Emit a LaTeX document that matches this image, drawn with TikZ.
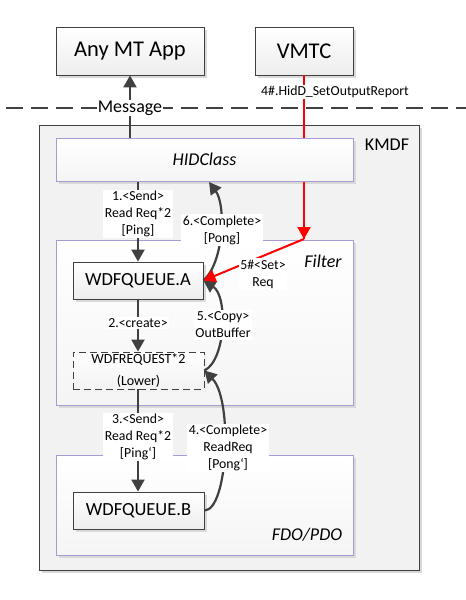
\documentclass[tikz,border=0pt]{standalone}
\usepackage{fontspec}
\setmainfont{Carlito}
\usetikzlibrary{arrows.meta,shadows,calc}
\definecolor{dk}{HTML}{404040}
\definecolor{lav}{HTML}{A99BD1}
\definecolor{kbg}{HTML}{F2F2F2}
\definecolor{shd}{HTML}{D9D9D9}
\definecolor{redc}{HTML}{FF0000}
\tikzset{
  shad/.style={drop shadow={shadow xshift=3pt,shadow yshift=-3pt,fill=shd,opacity=1}},
  bigbox/.style={draw=dk, line width=0.9pt, top color=white, bottom color=gray!14, shad,
    minimum width=148pt, minimum height=48pt, inner sep=0pt, font=\fontsize{22.5}{27}\selectfont},
  layer/.style={draw=lav, line width=1pt, top color=white, bottom color=gray!8, shad, inner sep=0pt},
  qbox/.style={draw=dk, line width=0.9pt, top color=white, bottom color=gray!14, shad,
    minimum width=131pt, minimum height=37pt, inner sep=0pt, font=\fontsize{18.5}{22}\selectfont},
  arr/.style={draw=dk, line width=2.2pt, -{Triangle[length=12pt,width=13pt]}},
  redarr/.style={draw=redc, line width=2pt, -{Triangle[length=12pt,width=13pt]}},
  lbl/.style={fill=white, inner sep=1.5pt, align=center, font=\fontsize{13.8}{17}\selectfont},
  ttl/.style={inner sep=0pt, font=\fontsize{18}{21}\selectfont},
}
\newcommand{\bq}{\symbol{96}}
\begin{document}
\begin{tikzpicture}[x=1pt,y=-1pt]
\useasboundingbox (0,0) rectangle (466,600);
% dashed boundary
\coordinate (dl) at (6,108);
\coordinate (dr) at (466,108);
\draw[dk, line width=2pt, dash pattern=on 17pt off 8pt] (dl) -- (dr);
% top boxes
\node[bigbox] (app) at (130,51) {Any MT App};
\node[bigbox, minimum width=98pt] (vmtc) at (304,51) {VMTC};
% KMDF container
\node[draw=dk, line width=1pt, fill=kbg, shad, minimum width=380pt, minimum height=445pt, inner sep=0pt] (kmdf) at (229,347.5) {};
\node[ttl] (kmdft) at (387,145) {KMDF};
% red line (behind HIDClass)
\coordinate (r1) at (304,239);
\draw[draw=redc, line width=2pt] (vmtc.south) -- (r1);
% layers
\node[layer, minimum width=297pt, minimum height=43pt, font=\itshape\fontsize{18}{21}\selectfont] (hid) at (204.5,159.5) {HIDClass};
\node[layer, minimum width=297pt, minimum height=165pt] (filter) at (204.5,322.5) {};
\node[ttl, font=\itshape\fontsize{18}{21}\selectfont] (filtert) at (323,261) {Filter};
\node[layer, minimum width=297pt, minimum height=100pt] (fdo) at (204.5,505) {};
\node[ttl, font=\itshape\fontsize{18}{21}\selectfont] (fdot) at (307,535) {FDO/PDO};
% queues
\node[qbox, minimum width=130pt] (qa) at (138,280.5) {WDFQUEUE.A};
\node[draw=dk, line width=0.9pt, dash pattern=on 7pt off 4pt, top color=white, bottom color=gray!10,
  drop shadow={shadow xshift=3pt,shadow yshift=-3pt,fill=gray!10,opacity=1},
  minimum width=131pt, minimum height=37pt, inner sep=0pt, align=center, font=\fontsize{14}{22}\selectfont] (req) at (138.5,370.5) {WDFREQUEST*2\\(Lower)};
\node[qbox] (qb) at (138.5,510.5) {WDFQUEUE.B};
% message arrow
\draw[arr] (hid.north -| app.south) -- (app.south);
\node[fill=white, inner sep=1pt, font=\fontsize{18}{21}\selectfont] (msg) at (130,108) {Message};
% vertical arrows
\draw[arr] (hid.south -| qa.north) -- (qa.north);
\draw[arr] (qa.south) -- (req.north -| qa.south);
\draw[arr] (req.south -| qa.south) -- (qb.north -| qa.south);
% curved arrows
\coordinate (h6) at (209,182);
\draw[arr] (qa.east) .. controls (224,262) and (226,205) .. (h6);
\draw[arr] (req.east) .. controls (226,360) and (228,296) .. (qa.east);
\draw[arr] (qb.east) .. controls (228,510) and (233,400) .. (req.east);
% red arrows (on top)
\draw[redarr] (hid.south -| r1) -- (r1);
\draw[redarr] (r1) -- (qa.east);
% labels
\node[lbl] (l1) at (138,214) {1.<Send>\\Read Req*2\\{[Ping]}};
\node[lbl] (l2) at (138,323) {2.<create>};
\node[lbl] (l3) at (138,437) {3.<Send>\\Read Req*2\\{[Ping\bq]}};
\node[lbl] (l4) at (228,448) {4.<Complete>\\ReadReq\\{[Pong\bq]}};
\node[lbl] (l5) at (223,325) {5.<Copy>\\OutBuffer};
\node[lbl] (l6) at (222,230) {6.<Complete>\\{[Pong]}};
\node[lbl] (l5r) at (263,274) {5\#<Set>\\Req};
\node[lbl] (l4r) at (335,92) {4\#.HidD\_SetOutputReport};
\end{tikzpicture}
\end{document}
